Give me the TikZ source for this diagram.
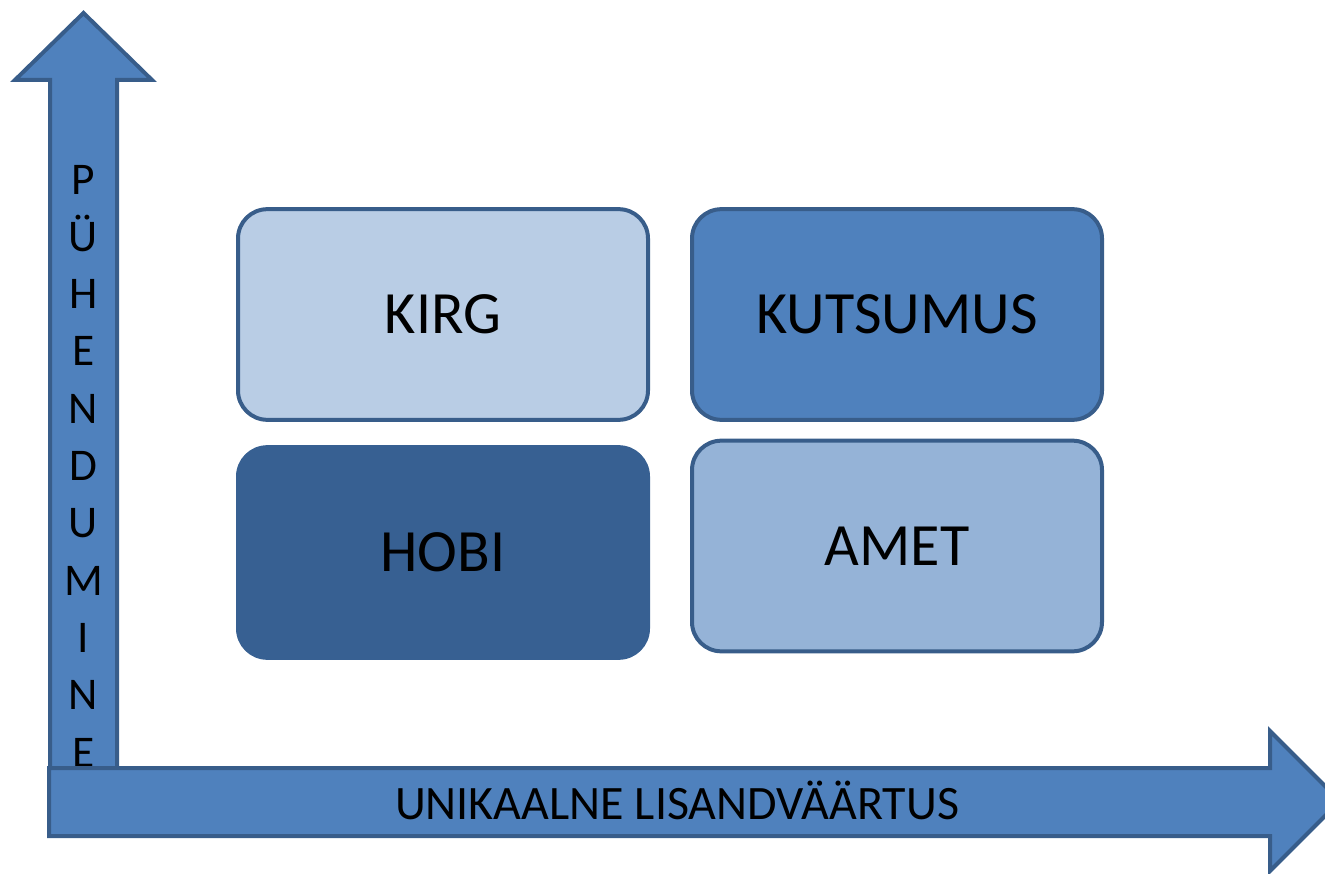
\documentclass[tikz,border=0pt]{standalone}
\usepackage{fontspec}
\setmainfont{Carlito}
\usepackage{tikz}
\usetikzlibrary{calc}

\definecolor{axisblue}{HTML}{4F81BD}
\definecolor{edgeblue}{HTML}{385D8A}
\definecolor{kirgfill}{HTML}{B9CDE5}
\definecolor{ametfill}{HTML}{95B3D7}
\definecolor{hobifill}{HTML}{376092}

\begin{document}
\begin{tikzpicture}[x=0.75pt, y=-0.75pt,
        axisarrow/.style={fill=axisblue, draw=edgeblue, line width=3pt, line join=miter},
        axislabel/.style={font=\fontsize{34}{40}\selectfont, anchor=base, inner sep=0pt},
        quadrant/.style={draw=edgeblue, line width=3pt, rounded corners=22pt,
            minimum width=307.5pt, minimum height=158pt, inner sep=0pt,
            font=\fontsize{45}{54}\selectfont}]
        \useasboundingbox (0,0) rectangle (1325,874);

        \coordinate (vtip) at (83.5,13);
        \coordinate (htip) at (1340,801);

        % Vertical axis.
        \draw[axisarrow] (vtip) -- (152,80) -- (117,80) -- (117,800) -- (50,800)
            -- (50,80) -- (15,80) -- cycle;
        \foreach \ch [count=\i] in {P,Ü,H,E,N,D,U,M,I,N,E}
            \node[axislabel] (pyh\i) at (83.5,{194+57.3*(\i-1)}) {\ch};

        % Horizontal axis.
        \draw[axisarrow] (htip) -- (1270,871) -- (1270,836) -- (49,836) -- (49,768)
            -- (1270,768) -- (1270,731) -- cycle;
        \node[axislabel, font=\fontsize{36}{43}\selectfont] (lisand) at (677,819)
            {UNIKAALNE LISANDVÄÄRTUS};

        % Quadrants.
        \node[quadrant, fill=kirgfill] (kirg) at (443,314.5) {KIRG};
        \node[quadrant, fill=axisblue] (kutsumus) at (897,314.5) {KUTSUMUS};
        \node[quadrant, fill=hobifill, draw=hobifill] (hobi) at (443,552.5) {HOBI};
        \node[quadrant, fill=ametfill] (amet) at (897,546) {AMET};

    \end{tikzpicture}
\end{document}
